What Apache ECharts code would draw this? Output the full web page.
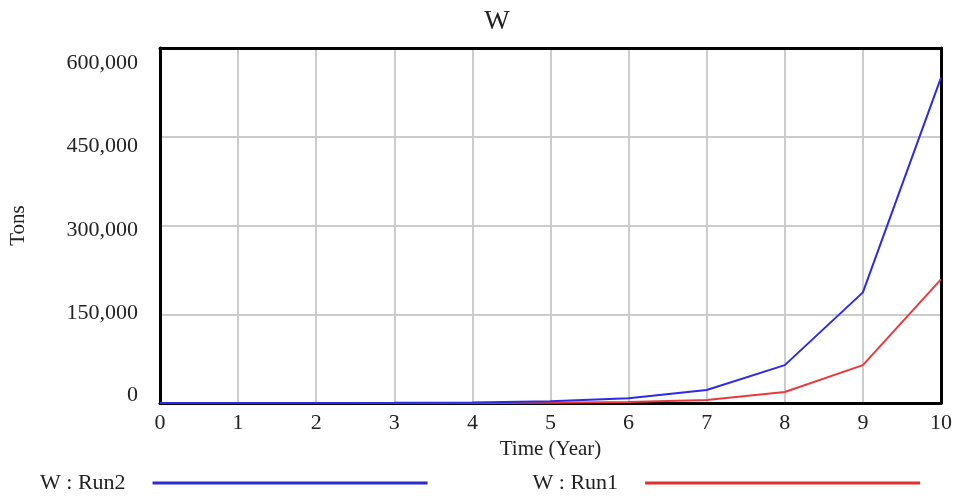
<!DOCTYPE html>
<html>
<head>
<meta charset="utf-8">
<script src="https://cdn.jsdelivr.net/npm/echarts@6/dist/echarts.min.js"></script>
<style>html,body{margin:0;padding:0;background:#fff;}#c{width:957px;height:500px;}</style>
</head>
<body>
<div id="c"></div>
<script>
const years = [0, 1, 2, 3, 4, 5, 6, 7, 8, 9, 10];
const run2 = [15, 40, 120, 350, 1000, 2800, 8000, 22000, 64000, 187000, 550000];
const run1 = [1, 4, 12, 40, 130, 450, 1500, 5000, 18500, 64000, 209000];
const yTicks = [0, 150000, 300000, 450000, 600000];
const labelShift = {0: -8, 150000: -1, 300000: 5, 450000: 9, 600000: 15};

const font = '"Liberation Serif", "DejaVu Serif", serif';
const chart = echarts.init(document.getElementById('c'));
const rich = {};
yTicks.forEach((v, i) => {
  const d = labelShift[v];
  rich['r' + i] = {
    fontFamily: font, fontSize: 22, color: '#222',
    padding: d >= 0 ? [2 * d, 0, 0, 0] : [0, 0, -2 * d, 0]
  };
});
const frameLine = { show: true, onZero: false, lineStyle: { color: '#000', width: 3 } };
chart.setOption({
  animation: false,
  title: {
    text: 'W', left: 492, top: 3, textAlign: 'center',
    textStyle: { fontFamily: font, fontSize: 27, fontWeight: 'normal', color: '#222' }
  },
  legend: {
    left: 40, top: 472, padding: 0, itemWidth: 275, itemHeight: 3, itemGap: 105, align: 'right',
    icon: 'rect',
    formatter: function (n) { return n + '    '; },
    textStyle: { fontFamily: font, fontSize: 22, color: '#222' },
    data: ['W : Run2', 'W : Run1']
  },
  grid: {
    left: 160, right: 16, top: 48, bottom: 97
  },
  xAxis: [{
    type: 'value', min: 0, max: 10, interval: 1,
    name: 'Time (Year)', nameLocation: 'middle', nameGap: 33,
    nameTextStyle: { fontFamily: font, fontSize: 21, color: '#222' },
    axisLine: frameLine, axisTick: { show: false },
    axisLabel: { fontFamily: font, fontSize: 22, color: '#222', margin: 9 },
    splitLine: { show: true, lineStyle: { color: '#cccccc', width: 2 } }
  }, {
    type: 'value', min: 0, max: 10, interval: 1, position: 'top',
    axisLine: frameLine, axisTick: { show: false }, axisLabel: { show: false },
    splitLine: { show: false }
  }],
  yAxis: [{
    type: 'value', min: 0, max: 600000, interval: 150000,
    name: 'Tons', nameLocation: 'middle', nameGap: 131, nameRotate: 90,
    nameTextStyle: { fontFamily: font, fontSize: 21, color: '#222' },
    axisLine: frameLine, axisTick: { show: false },
    axisLabel: {
      margin: 22,
      formatter: function (v) {
        const i = yTicks.indexOf(v);
        return '{r' + i + '|' + v.toLocaleString('en-US') + '}';
      },
      rich: rich
    },
    splitLine: { show: true, lineStyle: { color: '#cccccc', width: 2 } }
  }, {
    type: 'value', min: 0, max: 600000, interval: 150000, position: 'right',
    axisLine: frameLine, axisTick: { show: false }, axisLabel: { show: false },
    splitLine: { show: false }
  }],
  series: [
    {
      name: 'W : Run2', type: 'line', symbol: 'none',
      data: years.map((x, i) => [x, run2[i]]),
      lineStyle: { color: '#2b2be6', width: 2 }, itemStyle: { color: '#2b2bd0' }, z: 3
    },
    {
      name: 'W : Run1', type: 'line', symbol: 'none',
      data: years.map((x, i) => [x, run1[i]]),
      lineStyle: { color: '#e83a3a', width: 2 }, itemStyle: { color: '#e03030' }, z: 2
    }
  ]
});
</script>
</body>
</html>
